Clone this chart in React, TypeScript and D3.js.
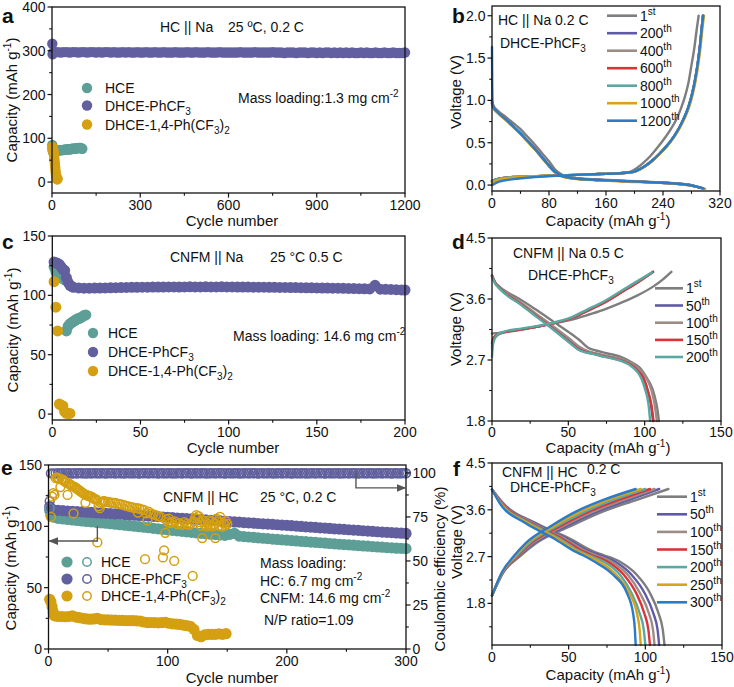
import React from "react";
import * as d3 from "d3";

const FONT = "'Liberation Sans', Arial, Helvetica, sans-serif";
const INK = "#111";
const TEAL = "#5d9e97";
const PURPLE = "#625f9f";
const GOLD = "#d4a011";
const L_GRAY = "#7e7e7e", L_PURPLE = "#5f5aa8", L_BROWN = "#9c8c86", L_RED = "#dc3338", L_TEAL = "#5aa8a1", L_GOLD = "#d9a21b", L_BLUE = "#2b7bc6";

type P = [number, number];

// ---------------- Panel a data (HC || Na, 0.2 C) ----------------
const aHCE: P[] = [[1,85],[2,75],[3,70],[4,69],[5,69],[6,70],[7,70],[8,70],[9,71],[10,71],[13,71],[16,71],[19,72],[22,72],[25,72],[28,73],[31,73],[34,73],[37,73],[40,74],[43,74],[46,74],[49,74],[52,75],[55,75],[58,75],[61,75],[64,75],[67,76],[70,76],[73,76],[76,76],[79,77],[82,77],[85,77],[88,77],[91,78],[94,78],[97,78],[100,77],[103,76]];
const aPhHead: P[] = [[1,316],[2,292],[4,296],[7,297]];
const aPhCycles = d3.range(10, 1201, 10);
const aPhValues = [
297,297,296,297,297,296,297,297,296,297,
297,296,297,297,296,297,296,297,297,296,
297,296,296,297,296,297,296,296,297,296,
296,297,296,296,297,296,296,297,296,296,
296,297,296,296,296,297,296,296,297,296,
296,296,297,296,296,296,297,296,296,296,
296,296,296,297,296,296,296,296,297,296,
296,296,296,296,297,296,296,296,295,296,
296,296,295,296,296,296,295,296,296,295,
296,295,296,296,295,296,295,296,295,296,
295,296,295,295,296,295,296,295,295,296,
295,295,296,295,295,296,295,295,295,296];
const a14: P[] = [[1,80],[2,76],[3,78],[4,72],[5,70],[6,66],[7,61],[8,54],[9,47],[10,40],[11,33],[12,26],[13,20],[14,15],[15,12],[16,9],[17,7],[18,6],[19,8]];

// ---------------- Panel b data (HC || Na voltage profiles) ----------------
const bDis1st: P[] = [[0,0.99],[2,0.94],[8,0.88],[20,0.8],[30,0.73],[40,0.66],[50,0.57],[60,0.48],[70,0.38],[80,0.28],[88,0.19],[95,0.14],[105,0.1],[120,0.08],[150,0.065],[190,0.05],[230,0.035],[260,0.02],[280,0.0],[293,-0.03]];
const bChg1st: P[] = [[0,0.04],[10,0.07],[30,0.09],[60,0.1],[90,0.11],[120,0.12],[150,0.13],[180,0.14],[195,0.16],[203,0.2],[212,0.26],[222,0.34],[232,0.44],[242,0.55],[251,0.66],[259,0.78],[265,0.9],[271,1.05],[276,1.22],[280,1.42],[284,1.62],[287,1.82],[290,2.0]];
const bDisMid: P[] = [[0,0.97],[2,0.92],[8,0.86],[20,0.77],[30,0.69],[40,0.61],[50,0.52],[60,0.43],[70,0.33],[80,0.23],[88,0.16],[95,0.12],[105,0.09],[120,0.075],[150,0.06],[190,0.045],[230,0.03],[260,0.015],[280,-0.005],[296,-0.04]];
const bChgMid: P[] = [[0,0.05],[10,0.075],[30,0.095],[60,0.105],[90,0.115],[120,0.12],[150,0.13],[180,0.14],[200,0.16],[208,0.19],[216,0.23],[225,0.29],[235,0.37],[245,0.46],[255,0.57],[263,0.68],[270,0.8],[276,0.93],[281,1.08],[285,1.24],[289,1.45],[292,1.65],[294,1.82],[296,2.0]];
const bDis1000: P[] = [[0,0.96],[2,0.91],[8,0.85],[20,0.76],[30,0.68],[40,0.6],[50,0.51],[60,0.42],[70,0.32],[80,0.22],[88,0.15],[95,0.11],[105,0.085],[120,0.07],[150,0.055],[190,0.04],[230,0.028],[260,0.012],[282,-0.01],[299,-0.045]];
const bChg1000: P[] = [[0,0.03],[10,0.065],[30,0.09],[60,0.105],[90,0.115],[120,0.12],[150,0.13],[180,0.14],[201,0.16],[209,0.19],[217,0.23],[226,0.29],[236,0.37],[246,0.46],[256,0.57],[264,0.68],[271,0.8],[277,0.93],[282,1.08],[286,1.24],[290,1.45],[293,1.65],[295,1.82],[297.5,2.0]];
const bDis1200: P[] = [[0,1.63],[0.3,1.2],[0.8,0.97],[2,0.92],[8,0.86],[20,0.77],[30,0.69],[40,0.61],[50,0.52],[60,0.43],[70,0.33],[80,0.23],[88,0.16],[95,0.12],[105,0.09],[120,0.075],[150,0.06],[190,0.045],[230,0.03],[260,0.015],[280,-0.005],[297,-0.04]];
const bChg1200: P[] = [[0,0.0],[10,0.04],[30,0.07],[60,0.095],[90,0.11],[120,0.12],[150,0.13],[180,0.14],[200,0.16],[208,0.19],[216,0.23],[225,0.29],[235,0.37],[245,0.46],[255,0.57],[263,0.68],[270,0.8],[276,0.93],[281,1.08],[285,1.24],[289,1.45],[292,1.65],[294,1.82],[296.5,2.0]];
const bLabels = ["1st","200th","400th","600th","800th","1000th","1200th"];
const bColors = [L_GRAY, L_PURPLE, L_BROWN, L_RED, L_TEAL, L_GOLD, L_BLUE];
const bCurves: P[][][] = [[bDis1st,bChg1st],[bDisMid,bChgMid],[bDisMid,bChgMid],[bDisMid,bChgMid],[bDisMid,bChgMid],[bDis1000,bChg1000],[bDis1200,bChg1200]];

// ---------------- Panel c data (CNFM || Na, 0.5 C) ----------------
const cHCE: P[] = [[1,124],[2,120],[3,117],[4,116],[5,115],[6,114],[7,113],[8,70],[9,74],[10,76],[11,77],[12,78],[13,79],[14,80],[15,80.5],[16,81],[17,82],[18,83],[19,83.5]];
const cPhHead: P[] = [[1,128],[2,127.5],[3,127],[4,126],[5,124],[6,122],[7,121],[8,115],[9,111],[10,108.5],[11,107.5]];
const cPhCycles = d3.range(12, 199, 3);
const cPhValues = [
106.8,106.3,106,106,106.1,106.2,106.3,106.4,106.5,106.6,
106.7,106.8,106.8,106.9,106.9,107,107,107,107.1,107.1,
107,107.1,107.2,107.1,107.1,107.2,107.1,107.1,107.2,107.1,
107.1,107,107,107,106.9,106.9,106.9,106.8,106.8,106.7,
106.7,106.6,106.6,106.5,106.4,106.4,106.3,106.2,106.1,106,
106,105.9,105.8,105.7,105.6,105.5,105.4,108.5,105.2,105.1,
105,104.8,104.6];
const cPhTail: P[] = [[200,104.5]];
const c14: P[] = [[1,111.5],[2,90],[3,70],[4,8.4],[5,7.5],[6,6.8],[7,2],[8,0.6],[9,0.5],[10,0.5]];

// ---------------- Panel d data (CNFM || Na voltage profiles) ----------------
const dDis1: P[] = [[0,3.95],[2,3.85],[5,3.78],[10,3.7],[18,3.6],[29,3.44],[40,3.27],[51,3.1],[58,2.98],[63,2.88],[68,2.84],[75,2.8],[84,2.75],[92,2.66],[97,2.58],[101,2.45],[105,2.28],[107,2.12],[108.5,1.95],[109.3,1.8]];
const dChg1: P[] = [[0,3.09],[5,3.1],[20,3.15],[29,3.19],[40,3.24],[51,3.29],[62,3.36],[73,3.44],[84,3.54],[95,3.65],[106,3.79],[112,3.89],[117.5,4.0]];
const dDis50: P[] = [[0,3.94],[2,3.84],[5,3.76],[10,3.67],[18,3.55],[29,3.36],[40,3.17],[51,2.98],[56,2.89],[60,2.84],[66,2.8],[74,2.76],[85,2.7],[91,2.63],[96,2.53],[99.5,2.42],[102,2.25],[104,2.05],[105.5,1.8]];
const dChg50: P[] = [[0,2.9],[1,3.02],[4,3.08],[8,3.11],[18,3.15],[29,3.19],[40,3.24],[51,3.31],[62,3.42],[73,3.54],[84,3.69],[95,3.84],[105.5,4.0]];
const dDis100: P[] = [[0,3.94],[2,3.85],[5,3.77],[10,3.68],[18,3.56],[29,3.38],[40,3.2],[51,3.01],[57,2.9],[62,2.84],[68,2.8],[75,2.76],[86,2.7],[93,2.63],[98,2.53],[101.5,2.42],[104.5,2.25],[106.5,2.05],[108,1.8]];
const dChg100: P[] = [[0,2.85],[1,3.0],[4,3.07],[8,3.11],[18,3.15],[29,3.19],[40,3.24],[51,3.31],[62,3.42],[73,3.54],[84,3.69],[95,3.84],[105.5,4.0]];
const dDis150: P[] = [[0,3.94],[2,3.84],[5,3.76],[10,3.66],[18,3.54],[29,3.35],[40,3.16],[51,2.96],[56,2.87],[61,2.82],[67,2.79],[74,2.75],[85,2.69],[91,2.63],[96,2.53],[99.5,2.42],[102,2.25],[104.3,2.05],[105.8,1.8]];
const dChg150: P[] = [[0,2.95],[1,3.03],[4,3.08],[8,3.11],[18,3.15],[29,3.19],[40,3.24],[51,3.31],[62,3.42],[73,3.54],[84,3.69],[95,3.84],[105.4,4.0]];
const dDis200: P[] = [[0,3.93],[2,3.83],[5,3.75],[10,3.65],[18,3.53],[29,3.34],[40,3.15],[51,2.95],[56,2.86],[60,2.82],[66,2.79],[73,2.75],[84,2.69],[90,2.63],[95,2.53],[98,2.42],[100.5,2.25],[102.5,2.05],[103.6,1.8]];
const dChg200: P[] = [[0,2.75],[0.5,2.9],[1.5,3.0],[4,3.08],[8,3.12],[18,3.16],[29,3.2],[40,3.25],[51,3.32],[62,3.44],[73,3.56],[84,3.71],[95,3.86],[104.6,3.99]];
const dLabels = ["1st","50th","100th","150th","200th"];
const dColors = [L_GRAY, L_PURPLE, L_BROWN, L_RED, L_TEAL];
const dCurves: P[][][] = [[dDis1,dChg1],[dDis50,dChg50],[dDis100,dChg100],[dDis150,dChg150],[dDis200,dChg200]];

// ---------------- Panel e data (CNFM || HC full cell) ----------------
const eCycles = d3.range(4, 301, 4);
const ePhHead: P[] = [[1,116],[2,114]];
const ePhCap = [
113.5,113,112.8,112.5,112.3,112,111.8,111.5,111.3,111,
110.8,110.6,110.4,110.1,109.9,109.6,109.3,109.1,108.9,108.6,
108.4,108.1,107.9,107.6,107.4,107.1,106.8,106.6,106.3,106,
105.8,105.5,105.2,104.9,104.7,104.4,104.1,103.9,103.6,103.4,
103.1,102.8,102.6,102.3,102,101.8,101.6,101.3,101,100.8,
100.5,100.2,99.9,99.6,99.4,99.1,98.8,98.6,98.3,98,
97.8,97.5,97.2,96.9,96.7,96.4,96.1,95.9,95.6,95.3,
95.1,94.9,94.6,94.4,94.2];
const eHCEHead: P[] = [[1,113],[2,109]];
const eHCECap = [
107.5,106.5,106,105.6,105.2,104.8,104.4,104,103.7,103.3,
102.9,102.5,102.1,101.7,101.3,100.9,100.5,100.1,99.7,99.3,
98.9,98.4,98,97.5,97.1,96.7,96.3,95.9,95.5,95.1,
94.7,94.3,93.9,93.6,93.3,93,92.7,93.5,94.3,92,
91.6,91.3,91,90.6,90.3,90,89.6,89.3,89,88.7,
88.4,88.1,87.8,87.5,87.2,86.9,86.6,86.3,86,85.7,
85.4,85.1,84.9,84.6,84.3,84,83.8,83.5,83.2,83,
82.7,82.5,82.2,82,81.8];
const e14Head: P[] = [[1,40.5],[2,38.5],[3,34.5],[4,30]];
const e14Cycles = d3.range(5, 150, 3);
const e14Cap = [
27,26.5,26.5,26.3,26.5,27,26,25.5,25,24.5,
24.3,24.5,25,24,23.8,23.7,23.6,23.5,23.4,23.3,
23.2,23.1,23.2,23,22.8,22,21.5,21.6,21.5,21.3,
21.5,21.8,21,20.5,20.3,20,19.5,19,18.5,16,
11,10,11.5,12,12,12,12.3,12,12.5];
const eCECycles = d3.range(2, 301, 2);
const ePhCE = [
99.7,99.8,99.8,99.9,99.8,99.9,99.8,99.9,99.9,99.8,
99.9,99.8,99.9,99.9,99.8,99.9,99.9,99.8,99.9,99.9,
99.8,99.9,99.9,99.8,99.9,99.9,99.9,99.8,99.9,99.9,
99.8,99.9,99.9,99.9,99.8,99.9,99.9,99.8,99.9,99.9,
99.9,99.8,99.9,99.9,99.9,99.8,99.9,99.9,99.8,99.9,
99.9,99.9,99.8,99.9,99.9,99.8,99.9,99.9,99.9,99.8,
99.9,99.9,99.8,99.9,99.9,99.9,99.8,99.9,99.9,99.8,
99.9,99.9,99.9,99.8,99.9,99.9,99.8,99.9,99.9,99.9,
99.8,99.9,99.9,99.8,99.9,99.9,99.9,99.8,99.9,99.9,
99.8,99.9,99.9,99.9,99.8,99.9,99.9,99.8,99.9,99.9,
99.9,99.8,99.9,99.9,99.8,99.9,99.9,99.9,99.8,99.9,
99.9,99.8,99.9,99.9,99.9,99.8,99.9,99.9,99.8,99.9,
99.9,99.9,99.8,99.9,99.9,99.8,99.9,99.9,99.9,99.8,
99.9,99.9,99.8,99.9,99.9,99.9,99.8,99.9,99.9,99.8,
99.9,99.9,99.9,99.8,99.9,99.9,99.8,99.9,99.9,99.9];
const eHCECE = [
99.5,99.6,99.7,99.7,99.6,99.7,99.7,99.6,99.7,99.7,
99.7,99.6,99.7,99.7,99.7,99.6,99.7,99.7,99.6,99.7,
99.7,99.7,99.6,99.7,99.7,99.6,99.7,99.7,99.7,99.6,
99.7,99.7,99.6,99.7,99.7,99.7,99.6,99.7,99.7,99.6,
99.7,99.7,99.7,99.6,99.7,99.7,99.6,99.7,99.7,99.7,
99.6,99.7,99.7,99.6,99.7,99.7,99.7,99.6,99.7,99.7,
99.6,99.7,99.7,99.7,99.6,99.7,99.7,99.6,99.7,99.7,
99.7,99.6,99.7,99.7,99.7];
const eFirstCE: P[] = [[1,80]];
const ePhFirstCE: P[] = [[1,84]];
const e14CE: P[] = [[1,28],[2,75],[3,86.5],[4,88.5],[5,87.5],[6,97],[7,97.5],[8,97],[9,96.5],[10,92],[11,96.5],[12,96],[13,95.5],[14,95],[15,94.5],[16,87.5],[17,94],[18,93.5],[19,93],[20,92.5],[21,77],[22,92],[23,91.5],[24,91],[25,90.5],[26,90],[27,89.5],[28,89],[29,88.5],[30,88],[31,83],[32,87.5],[33,87],[34,87],[35,86.5],[36,86.5],[37,86],[38,85.5],[39,85],[40,85],[41,60.5],[42,81],[43,80],[44,83],[45,83.5],[46,84],[47,84],[48,83.5],[50,83.5],[52,83.2],[54,83],[56,83],[58,82.6],[60,82.3],[62,82],[64,81.6],[66,81.2],[68,80.8],[70,80.5],[72,80.2],[74,80],[75,77.5],[76,79.8],[78,79.3],[80,79],[81,51],[82,77],[83,73],[84,78],[86,77],[88,76.5],[90,76],[92,75.5],[94,75],[96,52],[97,56],[98,66],[99,73.5],[100,72],[101,74],[102,71.5],[104,72],[105.5,50],[106,72.5],[108,71],[110,71.5],[112,70.5],[114,72],[116,71],[118,70.5],[120,71.5],[121,41.5],[122,72.5],[123,74.5],[124,76],[125,74],[126,75.5],[127,72],[128,70],[129,63],[130,73],[131,70.5],[132,72],[133,69.5],[134,71],[135,73],[136,70],[137,72.5],[138,69.5],[139,71],[140,63],[141,74],[142,72.5],[143,70],[144,75],[145,72],[146,69.5],[147,71.5],[148,70.5],[149,72.5],[150,71]];

// ---------------- Panel f data (CNFM || HC voltage profiles) ----------------
const fDisV = [3.99, 3.73, 3.34, 3.04, 2.8, 2.73, 2.6, 2.35, 2.0, 1.61, 1.29, 1.0];
const fDis = [
  [0, 7.2, 29, 51, 66, 72.6, 83.5, 94.4, 103, 108.6, 111.4, 112.5],
  [0, 6.8, 28, 49, 63.5, 70, 80.5, 91, 99.5, 105.2, 108, 109],
  [0, 6.5, 27, 47.5, 61.5, 67.5, 78, 88.5, 96.5, 102.3, 105, 106],
  [0, 6.2, 26, 46, 59.5, 65, 75.5, 86, 94, 99.3, 102, 103],
  [0, 5.8, 25, 44.5, 57.5, 63, 73, 83.5, 91, 96.3, 99, 100],
  [0, 5.4, 23.5, 43, 55.8, 61, 70, 81, 89.5, 94.5, 96.3, 97],
  [0, 5, 22, 41, 54, 59, 67, 79, 88, 92, 93.2, 93.7]];
const fChgV = [1.95, 2.4, 2.7, 2.96, 3.28, 3.57, 3.79, 4.0];
const fChg = [
  [0, 7.5, 18, 29, 50.8, 72.6, 94.4, 115],
  [0, 7.3, 17, 27.5, 48, 69, 89.5, 109],
  [0, 7.1, 16.5, 26.5, 46, 66.5, 86, 106],
  [0, 7, 16, 25.5, 44, 63.5, 82.5, 103],
  [0, 6.8, 15.5, 24.5, 42, 61, 79, 100],
  [0, 6.7, 14.8, 23, 40, 58, 75.5, 97],
  [0, 6.5, 14, 22, 38, 55, 72.6, 93.7]];
const fLabels = ["1st","50th","100th","150th","200th","250th","300th"];
const fColors = [L_GRAY, L_PURPLE, L_BROWN, L_RED, L_TEAL, L_GOLD, L_BLUE];

// ---------------- scales ----------------
const aX = d3.scaleLinear([0, 1200], [52, 405]);
const aY = d3.scaleLinear([-25, 400], [193, 7]);
const bX = d3.scaleLinear([0, 320], [492, 720]);
const bY = d3.scaleLinear([-0.07, 2.115], [191, 6]);
const cX = d3.scaleLinear([0, 200], [52.3, 405]);
const cY = d3.scaleLinear([-5, 150], [420, 236]);
const dX = d3.scaleLinear([0, 150], [492, 721]);
const dY = d3.scaleLinear([1.8, 4.5], [421, 238]);
const eX = d3.scaleLinear([0, 300], [48.5, 406]);
const eY = d3.scaleLinear([0, 150], [649, 465]);
const eY2 = d3.scaleLinear([0, 104.5], [649, 465]);
const fX = d3.scaleLinear([0, 150], [492, 722]);
const fY = d3.scaleLinear([1.0, 4.5], [645, 463]);

type Sc = d3.ScaleLinear<number, number>;

function Frame({ x, y }: { x: Sc; y: Sc }) {
  const [x0, x1] = x.range();
  const [y0, y1] = y.range();
  return <rect x={x0} y={Math.min(y0, y1)} width={x1 - x0} height={Math.abs(y0 - y1)} fill="none" stroke={INK} strokeWidth={1.3} />;
}

function BottomAxis({ x, y, ticks, minor, fmt, off = 17 }: { x: Sc; y: Sc; ticks: number[]; minor: number[]; fmt?: (v: number) => string; off?: number }) {
  const y0 = y.range()[0];
  const f = fmt || ((v: number) => String(v));
  return (
    <g>
      {ticks.map((t) => (
        <g key={"t" + t}>
          <line x1={x(t)} x2={x(t)} y1={y0} y2={y0 + 4.5} stroke={INK} strokeWidth={1.2} />
          <text x={x(t)} y={y0 + off} textAnchor="middle" fontSize={14} fill={INK}>{f(t)}</text>
        </g>
      ))}
      {minor.map((t) => <line key={"m" + t} x1={x(t)} x2={x(t)} y1={y0} y2={y0 + 2.8} stroke={INK} strokeWidth={1.1} />)}
    </g>
  );
}

function LeftAxis({ x, y, ticks, minor, fmt }: { x: Sc; y: Sc; ticks: number[]; minor: number[]; fmt?: (v: number) => string }) {
  const x0 = x.range()[0];
  const f = fmt || ((v: number) => String(v));
  return (
    <g>
      {ticks.map((t) => (
        <g key={"t" + t}>
          <line x1={x0 - 4.5} x2={x0} y1={y(t)} y2={y(t)} stroke={INK} strokeWidth={1.2} />
          <text x={x0 - 6.5} y={y(t) + 5} textAnchor="end" fontSize={14} fill={INK}>{f(t)}</text>
        </g>
      ))}
      {minor.map((t) => <line key={"m" + t} x1={x0 - 2.8} x2={x0} y1={y(t)} y2={y(t)} stroke={INK} strokeWidth={1.1} />)}
    </g>
  );
}

function RightAxis({ x, y, ticks, minor }: { x: Sc; y: Sc; ticks: number[]; minor: number[] }) {
  const x1 = x.range()[1];
  return (
    <g>
      {ticks.map((t) => (
        <g key={"t" + t}>
          <line x1={x1} x2={x1 + 4.5} y1={y(t)} y2={y(t)} stroke={INK} strokeWidth={1.2} />
          <text x={x1 + 6.5} y={y(t) + 5} textAnchor="start" fontSize={14} fill={INK}>{t}</text>
        </g>
      ))}
      {minor.map((t) => <line key={"m" + t} x1={x1} x2={x1 + 2.8} y1={y(t)} y2={y(t)} stroke={INK} strokeWidth={1.1} />)}
    </g>
  );
}

function Dots({ data, x, y, color, r = 5, hollow = false }: { data: P[]; x: Sc; y: Sc; color: string; r?: number; hollow?: boolean }) {
  return (
    <g>
      {data.map((d, i) => (
        <circle key={i} cx={x(d[0])} cy={y(d[1])} r={r}
          fill={hollow ? "none" : color} stroke={hollow ? color : "none"} strokeWidth={hollow ? 1.5 : 0} />
      ))}
    </g>
  );
}

function Curve({ data, x, y, color }: { data: P[]; x: Sc; y: Sc; color: string }) {
  const line = d3.line<P>().x((d) => x(d[0])).y((d) => y(d[1])).curve(d3.curveMonotoneX);
  return <path d={line(data) || ""} fill="none" stroke={color} strokeWidth={2.4} strokeLinejoin="round" strokeLinecap="round" />;
}

const ord = (s: string) => {
  const m = s.match(/^(\d+)(\D+)$/);
  if (!m) return s;
  return (<>{m[1]}<tspan dy={-6} fontSize={10}>{m[2]}</tspan></>);
};

const PhCF3 = () => (<>DHCE-PhCF<tspan dy={4} fontSize={10}>3</tspan></>);
const Ph14 = () => (<>DHCE-1,4-Ph(CF<tspan dy={4} fontSize={10}>3</tspan><tspan dy={-4}>)</tspan><tspan dy={4} fontSize={10}>2</tspan></>);
const CapLabel = () => (<>Capacity (mAh g<tspan dy={-6} fontSize={10}>-1</tspan><tspan dy={6}>)</tspan></>);

function LineLegend({ labels, colors, x0, x1, rows }: { labels: string[]; colors: string[]; x0: number; x1: number; rows: number[] }) {
  return (
    <g>
      {labels.map((l, i) => (
        <g key={l}>
          <line x1={x0} x2={x1} y1={rows[i]} y2={rows[i]} stroke={colors[i]} strokeWidth={2.6} />
          <text x={x1 + 3} y={rows[i] + 5} fontSize={14} fill={INK}>{ord(l)}</text>
        </g>
      ))}
    </g>
  );
}

function DotLegend({ x, tx, rows }: { x: number; tx: number; rows: number[] }) {
  const cols = [TEAL, PURPLE, GOLD];
  return (
    <g>
      {cols.map((c, i) => <circle key={i} cx={x} cy={rows[i]} r={5.2} fill={c} />)}
      <text x={tx} y={rows[0] + 5} fontSize={14} fill={INK}>HCE</text>
      <text x={tx} y={rows[1] + 5} fontSize={14} fill={INK}><PhCF3 /></text>
      <text x={tx} y={rows[2] + 5} fontSize={14} fill={INK}><Ph14 /></text>
    </g>
  );
}

const zip = (xs: number[], ys: number[]): P[] => xs.map((v, i) => [v, ys[i]]);
const fmt1 = (v: number) => v.toFixed(1);

export default function App() {
  const aPh: P[] = [...aPhHead, ...zip(aPhCycles, aPhValues)];
  const cPh: P[] = [...cPhHead, ...zip(cPhCycles, cPhValues), ...cPhTail];
  const ePh: P[] = [...ePhHead, ...zip(eCycles, ePhCap)];
  const eHCE: P[] = [...eHCEHead, ...zip(eCycles, eHCECap)];
  const e14: P[] = [...e14Head, ...zip(e14Cycles, e14Cap)];
  const ePhCEp: P[] = [...ePhFirstCE, ...zip(eCECycles, ePhCE)];
  const eHCECEp: P[] = [...eFirstCE, ...zip(eCycles, eHCECE)];

  return (
    <svg width={734} height={687} viewBox="0 0 734 687" style={{ display: "block", position: "absolute", left: 0, top: 0, background: "#fff" }} fontFamily={FONT}>
      <defs>
        <marker id="arr" viewBox="0 0 10 10" refX="9" refY="5" markerWidth="7" markerHeight="7" orient="auto-start-reverse">
          <path d="M0,1 L10,5 L0,9 z" fill="#555" />
        </marker>
      </defs>
      <rect x={0} y={0} width={734} height={687} fill="#fff" />

      {/* ---------- Panel a ---------- */}
      <g>
        <Dots data={aHCE} x={aX} y={aY} color={TEAL} r={5.2} />
        <Dots data={aPh} x={aX} y={aY} color={PURPLE} r={5.2} />
        <Dots data={a14} x={aX} y={aY} color={GOLD} r={5.2} />
        <Frame x={aX} y={aY} />
        <BottomAxis x={aX} y={aY} ticks={[0, 300, 600, 900, 1200]} minor={[150, 450, 750, 1050]} />
        <LeftAxis x={aX} y={aY} ticks={[0, 100, 200, 300, 400]} minor={[50, 150, 250, 350]} />
        <text x={232} y={226} textAnchor="middle" fontSize={15} fill={INK}>Cycle number</text>
        <text transform="translate(17,100) rotate(-90)" textAnchor="middle" fontSize={15} fill={INK}><CapLabel /></text>
        <text x={2} y={23} fontSize={21} fontWeight="bold" fill={INK}>a</text>
        <text x={160} y={32} fontSize={14} fill={INK}>HC || Na</text>
        <text x={228} y={32} fontSize={14} fill={INK}>25 ºC, 0.2 C</text>
        <text x={238} y={103} fontSize={14} fill={INK}>Mass loading:1.3 mg cm<tspan dy={-6} fontSize={10}>-2</tspan></text>
        <DotLegend x={87} tx={105} rows={[88, 105.5, 124.5]} />
      </g>

      {/* ---------- Panel b ---------- */}
      <g>
        {bCurves.map((c, i) => (
          <g key={i}>
            <Curve data={c[0]} x={bX} y={bY} color={bColors[i]} />
            <Curve data={c[1]} x={bX} y={bY} color={bColors[i]} />
          </g>
        ))}
        <Frame x={bX} y={bY} />
        <BottomAxis x={bX} y={bY} ticks={[0, 80, 160, 240, 320]} minor={[40, 120, 200, 280]} />
        <LeftAxis x={bX} y={bY} ticks={[0, 0.5, 1.0, 1.5, 2.0]} minor={[0.25, 0.75, 1.25, 1.75]} fmt={fmt1} />
        <text x={608} y={226} textAnchor="middle" fontSize={15} fill={INK}><CapLabel /></text>
        <text transform="translate(461,92) rotate(-90)" textAnchor="middle" fontSize={15} fill={INK}>Voltage (V)</text>
        <text x={452} y={23} fontSize={21} fontWeight="bold" fill={INK}>b</text>
        <text x={498} y={25} fontSize={14} fill={INK}>HC || Na 0.2 C</text>
        <text x={500} y={48} fontSize={14} fill={INK}><PhCF3 /></text>
        <LineLegend labels={bLabels} colors={bColors} x0={607} x1={637} rows={[15.7, 33.2, 50.7, 68.2, 85.7, 103.2, 120.7]} />
      </g>

      {/* ---------- Panel c ---------- */}
      <g>
        <Dots data={cHCE} x={cX} y={cY} color={TEAL} r={5.5} />
        <Dots data={cPh} x={cX} y={cY} color={PURPLE} r={5.5} />
        <Dots data={c14} x={cX} y={cY} color={GOLD} r={5.5} />
        <Frame x={cX} y={cY} />
        <BottomAxis x={cX} y={cY} ticks={[0, 50, 100, 150, 200]} minor={[25, 75, 125, 175]} />
        <LeftAxis x={cX} y={cY} ticks={[0, 50, 100, 150]} minor={[25, 75, 125]} />
        <text x={233} y={453} textAnchor="middle" fontSize={15} fill={INK}>Cycle number</text>
        <text transform="translate(18,330) rotate(-90)" textAnchor="middle" fontSize={15} fill={INK}><CapLabel /></text>
        <text x={2} y={249} fontSize={21} fontWeight="bold" fill={INK}>c</text>
        <text x={170} y={262} fontSize={14} fill={INK}>CNFM || Na</text>
        <text x={270} y={262} fontSize={14} fill={INK}>25 °C  0.5 C</text>
        <text x={233} y={341} fontSize={14} fill={INK}>Mass loading: 14.6 mg cm<tspan dy={-6} fontSize={10}>-2</tspan></text>
        <DotLegend x={93} tx={108} rows={[333, 352, 371]} />
      </g>

      {/* ---------- Panel d ---------- */}
      <g>
        {dCurves.map((c, i) => (
          <g key={i}>
            <Curve data={c[0]} x={dX} y={dY} color={dColors[i]} />
            <Curve data={c[1]} x={dX} y={dY} color={dColors[i]} />
          </g>
        ))}
        <Frame x={dX} y={dY} />
        <BottomAxis x={dX} y={dY} ticks={[0, 50, 100, 150]} minor={[25, 75, 125]} off={15.5} />
        <LeftAxis x={dX} y={dY} ticks={[1.8, 2.7, 3.6, 4.5]} minor={[2.25, 3.15, 4.05]} fmt={fmt1} />
        <text x={608} y={453} textAnchor="middle" fontSize={15} fill={INK}><CapLabel /></text>
        <text transform="translate(461,329) rotate(-90)" textAnchor="middle" fontSize={15} fill={INK}>Voltage (V)</text>
        <text x={452} y={249} fontSize={21} fontWeight="bold" fill={INK}>d</text>
        <text x={513} y={258} fontSize={14} fill={INK}>CNFM || Na  0.5 C</text>
        <text x={528} y={280} fontSize={14} fill={INK}><PhCF3 /></text>
        <LineLegend labels={dLabels} colors={dColors} x0={655} x1={683} rows={[288.3, 305.5, 322.7, 339.9, 357]} />
      </g>

      {/* ---------- Panel e ---------- */}
      <g>
        <Dots data={eHCE} x={eX} y={eY} color={TEAL} r={5.6} />
        <Dots data={ePh} x={eX} y={eY} color={PURPLE} r={5.6} />
        <Dots data={e14} x={eX} y={eY} color={GOLD} r={5.6} />
        <Dots data={eHCECEp} x={eX} y={eY2} color={TEAL} r={4.4} hollow />
        <Dots data={ePhCEp} x={eX} y={eY2} color={PURPLE} r={4.4} hollow />
        <Dots data={e14CE} x={eX} y={eY2} color={GOLD} r={4.4} hollow />
        <Frame x={eX} y={eY} />
        <BottomAxis x={eX} y={eY} ticks={[0, 100, 200, 300]} minor={[50, 150, 250]} />
        <LeftAxis x={eX} y={eY} ticks={[0, 50, 100, 150]} minor={[25, 75, 125]} />
        <RightAxis x={eX} y={eY2} ticks={[0, 25, 50, 75, 100]} minor={[12.5, 37.5, 62.5, 87.5]} />
        <path d={`M${eX(41)},${eY(100)} V${eY(88)} H${eX(0.6)}`} fill="none" stroke="#555" strokeWidth={1.4} markerEnd="url(#arr)" />
        <path d={`M${eX(258)},${eY2(100)} V${eY2(91.5)} H${eX(299.5)}`} fill="none" stroke="#555" strokeWidth={1.4} markerEnd="url(#arr)" />
        <text x={232} y={683} textAnchor="middle" fontSize={15} fill={INK}>Cycle number</text>
        <text transform="translate(16,568) rotate(-90)" textAnchor="middle" fontSize={15} fill={INK}><CapLabel /></text>
        <text transform="translate(445,569) rotate(-90)" textAnchor="middle" fontSize={15} fill={INK}>Coulombic efficiency (%)</text>
        <text x={1} y={475} fontSize={21} fontWeight="bold" fill={INK}>e</text>
        <text x={163} y={502} fontSize={14} fill={INK}>CNFM || HC</text>
        <text x={260} y={502} fontSize={14} fill={INK}>25 °C, 0.2 C</text>
        <text x={260} y={568} fontSize={14} fill={INK}>Mass loading:</text>
        <text x={260} y={585.5} fontSize={14} fill={INK}>HC: 6.7 mg cm<tspan dy={-6} fontSize={10}>-2</tspan></text>
        <text x={260} y={603} fontSize={14} fill={INK}>CNFM: 14.6 mg cm<tspan dy={-6} fontSize={10}>-2</tspan></text>
        <text x={264} y={625} fontSize={14} fill={INK}>N/P ratio=1.09</text>
        <g>
          {[TEAL, PURPLE, GOLD].map((c, i) => (
            <g key={i}>
              <circle cx={67} cy={[562, 579, 596][i]} r={5.6} fill={c} />
              <circle cx={87} cy={[562, 579, 596][i]} r={4.2} fill="none" stroke={c} strokeWidth={1.5} />
            </g>
          ))}
          <text x={101} y={567} fontSize={14} fill={INK}>HCE</text>
          <text x={101} y={584} fontSize={14} fill={INK}><PhCF3 /></text>
          <text x={101} y={601} fontSize={14} fill={INK}><Ph14 /></text>
        </g>
      </g>

      {/* ---------- Panel f ---------- */}
      <g>
        {fDis.map((caps, i) => (
          <g key={i}>
            <Curve data={zip(caps, fDisV)} x={fX} y={fY} color={fColors[i]} />
            <Curve data={zip(fChg[i], fChgV)} x={fX} y={fY} color={fColors[i]} />
          </g>
        ))}
        <Frame x={fX} y={fY} />
        <BottomAxis x={fX} y={fY} ticks={[0, 50, 100, 150]} minor={[25, 75, 125]} />
        <LeftAxis x={fX} y={fY} ticks={[1.8, 2.7, 3.6, 4.5]} minor={[1.35, 2.25, 3.15, 4.05]} fmt={fmt1} />
        <text x={608} y={680} textAnchor="middle" fontSize={15} fill={INK}><CapLabel /></text>
        <text transform="translate(462,542) rotate(-90)" textAnchor="middle" fontSize={15} fill={INK}>Voltage (V)</text>
        <text x={453} y={476} fontSize={21} fontWeight="bold" fill={INK}>f</text>
        <text x={502} y={477} fontSize={14} fill={INK}>CNFM || HC</text>
        <text x={587} y={474} fontSize={14} fill={INK}>0.2 C</text>
        <text x={510} y={492} fontSize={14} fill={INK}><PhCF3 /></text>
        <LineLegend labels={fLabels} colors={fColors} x0={657} x1={687} rows={[496.7, 514.3, 531.9, 549.5, 567.1, 584.7, 602.3]} />
      </g>
    </svg>
  );
}
